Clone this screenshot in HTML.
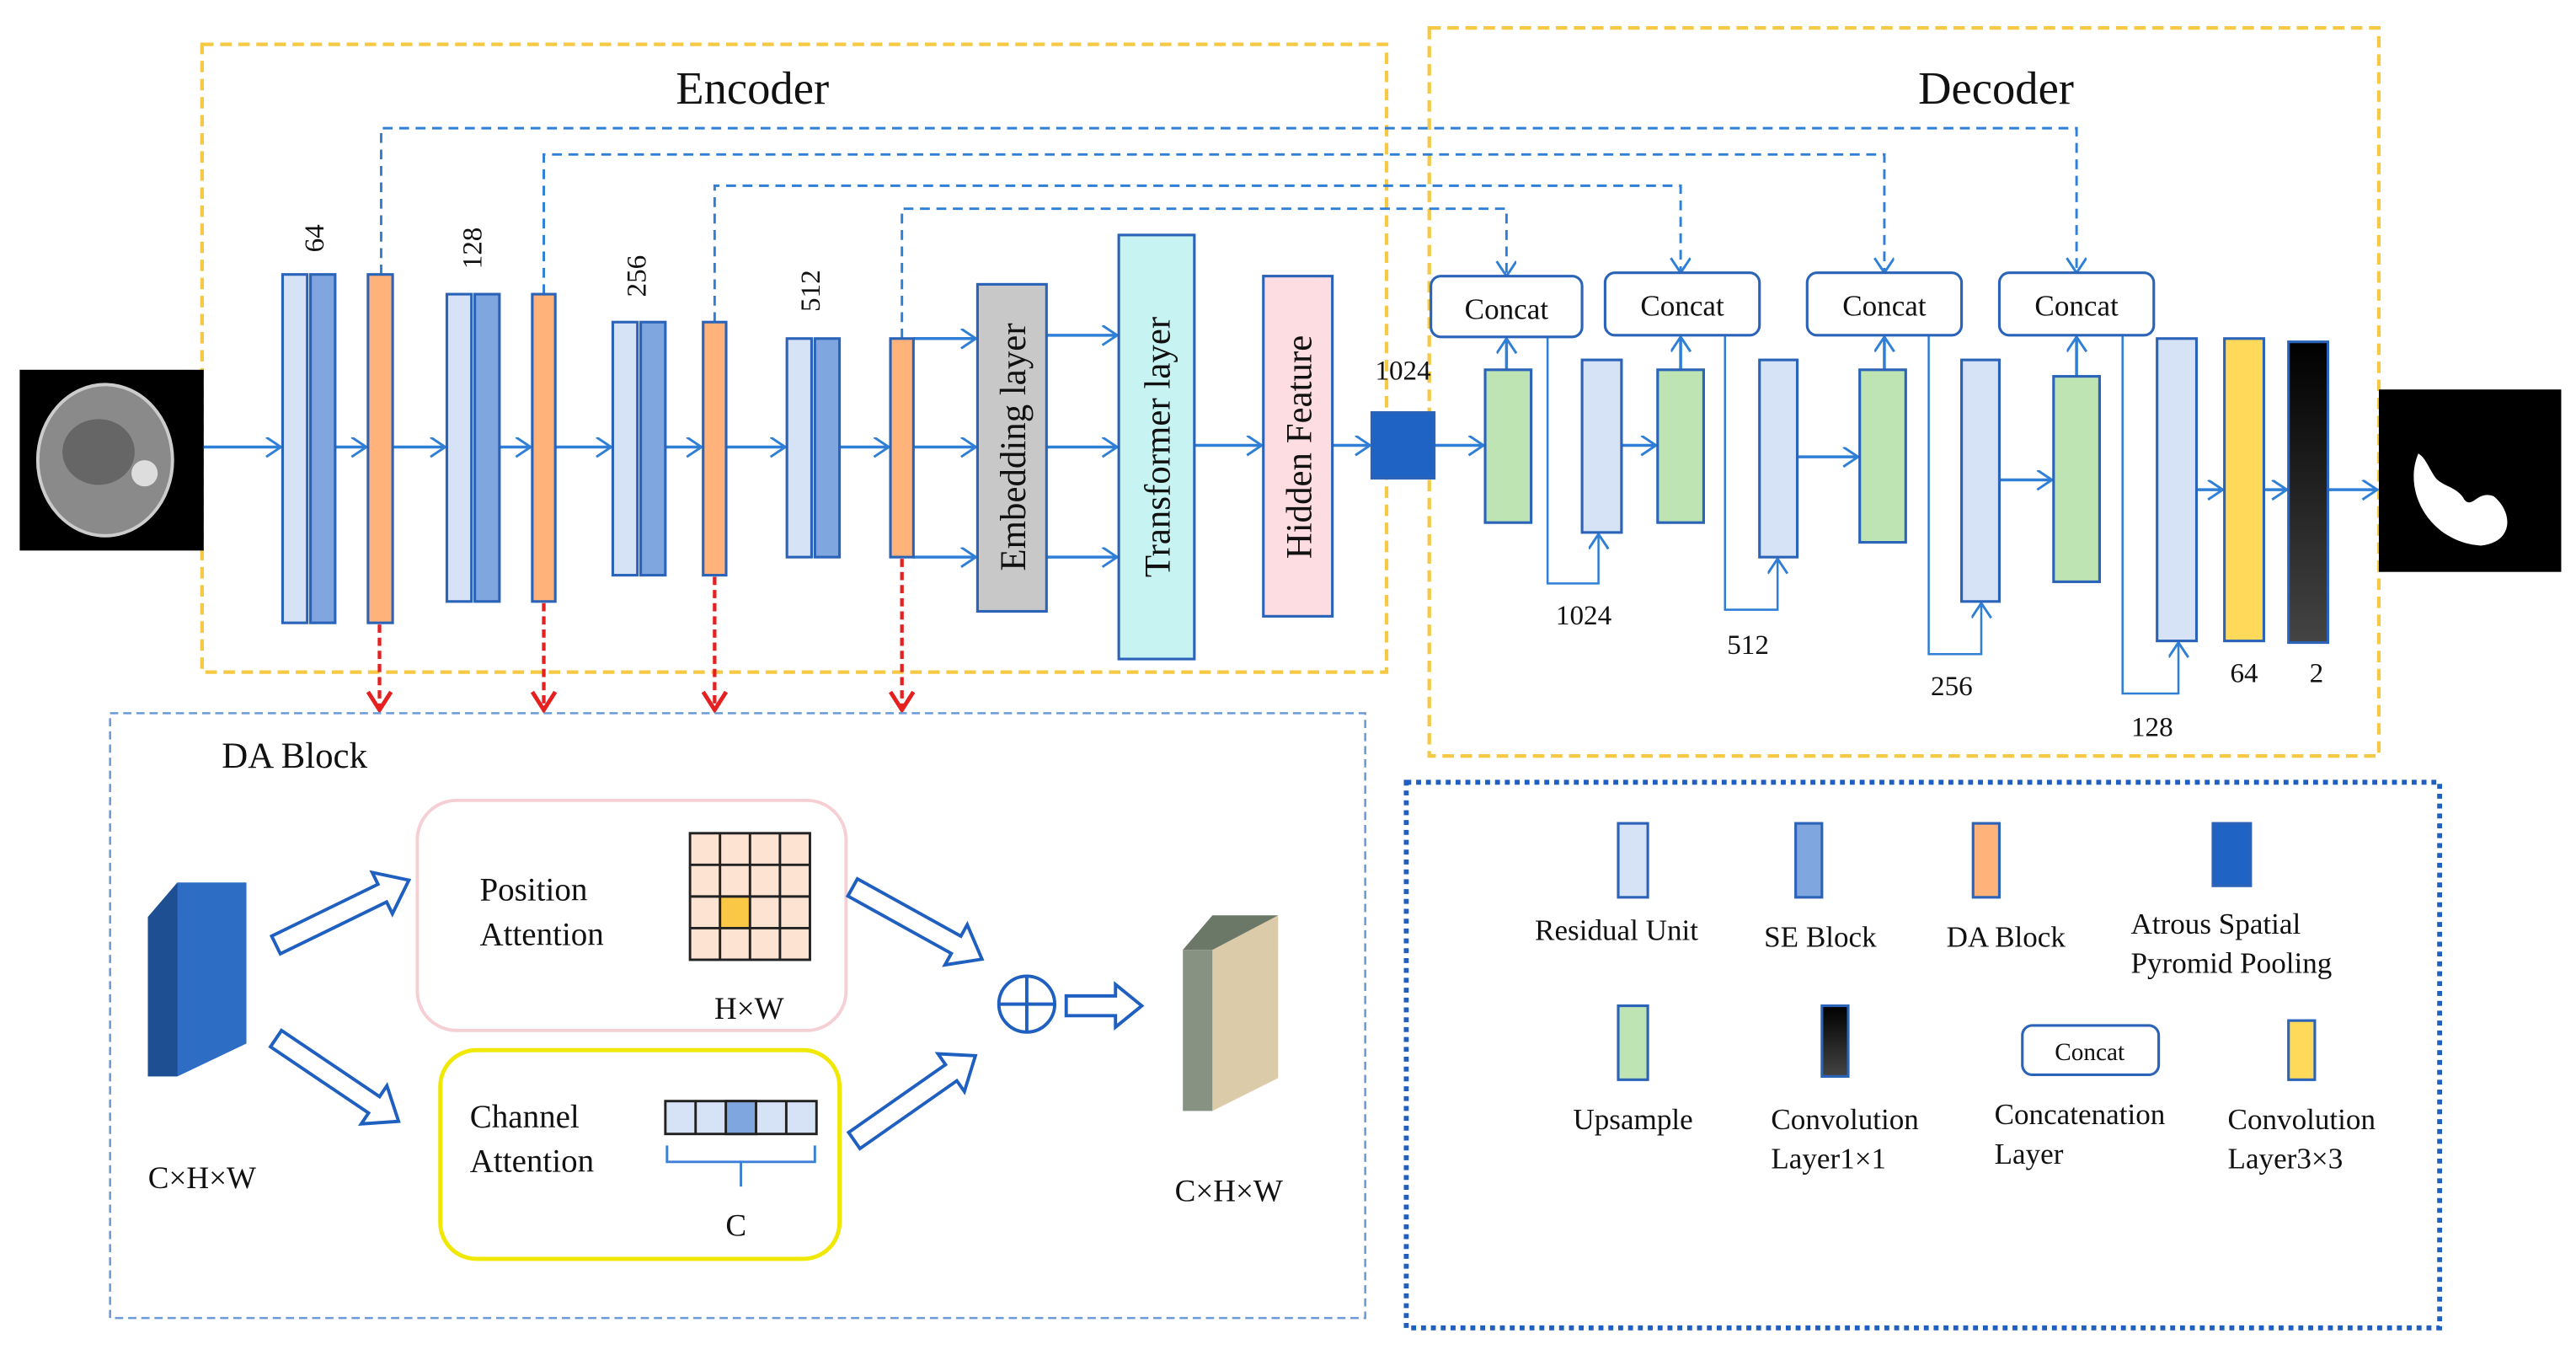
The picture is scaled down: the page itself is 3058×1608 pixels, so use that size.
<!DOCTYPE html>
<html><head><meta charset="utf-8"><style>
html,body{margin:0;padding:0;background:#fff}
svg{display:block}
text{font-family:"Liberation Serif",serif;fill:#111}
</style></head><body>
<svg width="3058" height="1608" viewBox="0 0 1568 824.5" preserveAspectRatio="none" xmlns="http://www.w3.org/2000/svg">
<defs>
<marker id="a" markerUnits="userSpaceOnUse" markerWidth="14" markerHeight="14" refX="10" refY="6" orient="auto"><path d="M1,0 L10,6 L1,12" fill="none" stroke="#2f7fd6" stroke-width="1.5"/></marker>
<marker id="r" markerUnits="userSpaceOnUse" markerWidth="16" markerHeight="16" refX="8" refY="14" orient="0"><path d="M1,3 L8,14 L15,3" fill="none" stroke="#e52020" stroke-width="2.5"/></marker>
<linearGradient id="bk" x1="0" y1="0" x2="0" y2="1"><stop offset="0" stop-color="#000"/><stop offset="1" stop-color="#444"/></linearGradient>
<g id="ha"><polygon points="0,-6 72,-6 72,-14 90,0 72,14 72,6 0,6" fill="#fff" stroke="#1f5fc0" stroke-width="2"/></g>
<g id="hs"><polygon points="0,-6 30,-6 30,-13 46,0 30,13 30,6 0,6" fill="#fff" stroke="#1f5fc0" stroke-width="2"/></g>
</defs>
<rect width="1568" height="824.5" fill="#fff"/>

<rect x="123" y="27" width="721" height="382" fill="none" stroke="#f6c945" stroke-width="2.2" stroke-dasharray="7,4"/>
<rect x="870" y="17" width="578" height="443" fill="none" stroke="#f6c945" stroke-width="2.2" stroke-dasharray="7,4"/>
<text x="458" y="63" font-size="28" text-anchor="middle">Encoder</text>
<text x="1215" y="63" font-size="28" text-anchor="middle">Decoder</text>

<rect x="12" y="225" width="112" height="110" fill="#000"/>
<ellipse cx="64" cy="280" rx="41" ry="46" fill="#8a8a8a" stroke="#ccc" stroke-width="2"/>
<ellipse cx="60" cy="275" rx="22" ry="20" fill="#666"/>
<circle cx="88" cy="288" r="8" fill="#ddd"/>
<rect x="1448" y="237" width="111" height="111" fill="#000"/>
<path d="M1472,276 C1462,300 1480,330 1510,332 C1530,330 1530,312 1518,302 C1508,298 1505,310 1500,304 C1496,296 1486,296 1482,290 C1478,284 1476,278 1472,276 Z" fill="#fff"/>

<g fill="none" stroke="#2f7fd6" stroke-width="1.5" stroke-dasharray="6,4">
<path d="M232,167 V78 H1264 V166" marker-end="url(#a)"/>
<path d="M331,179 V94 H1147 V166" marker-end="url(#a)"/>
<path d="M435,196 V113 H1023 V166" marker-end="url(#a)"/>
<path d="M549,206 V127 H917 V168" marker-end="url(#a)"/>
</g>

<g stroke="#2f7fd6" stroke-width="1.8" fill="none" marker-end="url(#a)">
<path d="M124,272 H171"/><path d="M204,272 H223"/><path d="M239,272 H271"/><path d="M304,272 H323"/>
<path d="M338,272 H372"/><path d="M405,272 H427"/><path d="M442,272 H478"/><path d="M511,272 H541"/>
<path d="M556,206 H594"/><path d="M556,272 H594"/><path d="M556,339 H594"/>
<path d="M637,204 H680"/><path d="M637,272 H680"/><path d="M637,339 H680"/>
<path d="M727,271 H768"/><path d="M811,271 H834"/>
<path d="M873,271 H903"/><path d="M987,271 H1008"/><path d="M1094,278 H1131"/><path d="M1217,292 H1249"/>
<path d="M1337,298 H1353"/><path d="M1378,298 H1392"/><path d="M1417,298 H1447"/>
<path d="M917,225 V206"/><path d="M1023,225 V205"/><path d="M1147,225 V205"/><path d="M1264,229 V205"/>
<path d="M942,205 V355 H973 V325" stroke-width="1.3"/>
<path d="M1050,204 V371 H1082 V340" stroke-width="1.3"/>
<path d="M1174,204 V398 H1206 V367" stroke-width="1.3"/>
<path d="M1292,204 V422 H1326 V391" stroke-width="1.3"/>
</g>

<g stroke="#e52020" stroke-width="2.2" stroke-dasharray="5,3" fill="none" marker-end="url(#r)">
<path d="M231,380 V432"/><path d="M331,367 V432"/><path d="M435,351 V432"/><path d="M549,340 V432"/>
</g>

<g stroke="#2a63b8" stroke-width="1.6">
<rect x="172" y="167" width="15" height="212" fill="#d6e3f6"/><rect x="189" y="167" width="15" height="212" fill="#7fa6de"/>
<rect x="224" y="167" width="15" height="212" fill="#ffb27a"/>
<rect x="272" y="179" width="15" height="187" fill="#d6e3f6"/><rect x="289" y="179" width="15" height="187" fill="#7fa6de"/>
<rect x="324" y="179" width="14" height="187" fill="#ffb27a"/>
<rect x="373" y="196" width="15" height="154" fill="#d6e3f6"/><rect x="390" y="196" width="15" height="154" fill="#7fa6de"/>
<rect x="428" y="196" width="14" height="154" fill="#ffb27a"/>
<rect x="479" y="206" width="15" height="133" fill="#d6e3f6"/><rect x="496" y="206" width="15" height="133" fill="#7fa6de"/>
<rect x="542" y="206" width="14" height="133" fill="#ffb27a"/>
<rect x="595" y="173" width="42" height="199" fill="#c8c8c8"/>
<rect x="681" y="143" width="46" height="258" fill="#c7f3f2"/>
<rect x="769" y="168" width="42" height="207" fill="#fddde2"/>
<rect x="835" y="251" width="38" height="40" fill="#1f63c4"/>
</g>
<g font-size="17">
<text transform="translate(197,145) rotate(-90)" text-anchor="middle">64</text>
<text transform="translate(293,151) rotate(-90)" text-anchor="middle">128</text>
<text transform="translate(393,168) rotate(-90)" text-anchor="middle">256</text>
<text transform="translate(499,177) rotate(-90)" text-anchor="middle">512</text>
</g>
<g font-size="22">
<text transform="translate(624,272) rotate(-90)" text-anchor="middle">Embedding layer</text>
<text transform="translate(712,272) rotate(-90)" text-anchor="middle">Transformer layer</text>
<text transform="translate(798,272) rotate(-90)" text-anchor="middle">Hidden Feature</text>
</g>
<text x="854" y="231" font-size="17" text-anchor="middle">1024</text>

<g stroke="#2a63b8" stroke-width="1.6">
<rect x="871" y="168" width="92" height="37" rx="6" fill="#fff"/>
<rect x="977" y="166" width="94" height="38" rx="6" fill="#fff"/>
<rect x="1100" y="166" width="94" height="38" rx="6" fill="#fff"/>
<rect x="1217" y="166" width="94" height="38" rx="6" fill="#fff"/>
<rect x="904" y="225" width="28" height="93" fill="#bfe4b3"/>
<rect x="1009" y="225" width="28" height="93" fill="#bfe4b3"/>
<rect x="1132" y="225" width="28" height="105" fill="#bfe4b3"/>
<rect x="1250" y="229" width="28" height="125" fill="#bfe4b3"/>
<rect x="963" y="219" width="24" height="105" fill="#d6e3f6"/>
<rect x="1071" y="219" width="23" height="120" fill="#d6e3f6"/>
<rect x="1194" y="219" width="23" height="147" fill="#d6e3f6"/>
<rect x="1313" y="206" width="24" height="184" fill="#d6e3f6"/>
<rect x="1354" y="206" width="24" height="184" fill="#ffd95a"/>
<rect x="1393" y="208" width="24" height="183" fill="url(#bk)"/>
</g>
<g font-size="18" text-anchor="middle">
<text x="917" y="194">Concat</text><text x="1024" y="192">Concat</text><text x="1147" y="192">Concat</text><text x="1264" y="192">Concat</text>
</g>
<g font-size="17" text-anchor="middle">
<text x="964" y="380">1024</text><text x="1064" y="398">512</text><text x="1188" y="423">256</text><text x="1310" y="448">128</text>
<text x="1366" y="415">64</text><text x="1410" y="415">2</text>
</g>

<rect x="67" y="434" width="764" height="368" fill="none" stroke="#6b9ad6" stroke-width="1.3" stroke-dasharray="5,3"/>
<text x="135" y="467" font-size="22">DA Block</text>
<polygon points="90,558 108,537 150,537 150,635 108,655 90,655" fill="#2e6dc4"/>
<polygon points="90,558 108,537 108,655 90,655" fill="#1f4f93"/>
<text x="123" y="723" font-size="19" text-anchor="middle">C×H×W</text>
<rect x="254" y="487" width="261" height="140" rx="24" fill="#fff" stroke="#f6cfd4" stroke-width="2"/>
<rect x="268" y="639" width="243" height="127" rx="22" fill="#fff" stroke="#f0e800" stroke-width="2.5"/>
<text x="292" y="548" font-size="20">Position</text><text x="292" y="575" font-size="20">Attention</text>
<text x="286" y="686" font-size="20">Channel</text><text x="286" y="713" font-size="20">Attention</text>
<text x="456" y="620" font-size="19" text-anchor="middle">H×W</text>
<text x="448" y="752" font-size="19" text-anchor="middle">C</text>
<rect x="420" y="507" width="73" height="77" stroke="#222" stroke-width="1.5" fill="#fde3d2"/>
<rect x="438.25" y="545.5" width="18.25" height="19.25" fill="#fbc846"/>
<g stroke="#222" stroke-width="1.5">
<line x1="438.25" y1="507" x2="438.25" y2="584"/><line x1="456.5" y1="507" x2="456.5" y2="584"/><line x1="474.75" y1="507" x2="474.75" y2="584"/>
<line x1="420" y1="526.25" x2="493" y2="526.25"/><line x1="420" y1="545.5" x2="493" y2="545.5"/><line x1="420" y1="564.75" x2="493" y2="564.75"/>
</g>
<rect x="405" y="670" width="92" height="20" fill="#d6e3f6" stroke="#222" stroke-width="1.5"/>
<rect x="441.8" y="670" width="18.4" height="20" fill="#7fa6de" stroke="#222" stroke-width="1.5"/>
<g stroke="#222" stroke-width="1.5"><line x1="423.4" y1="670" x2="423.4" y2="690"/><line x1="478.6" y1="670" x2="478.6" y2="690"/></g>
<path d="M406,697 V707 H496 V697 M451,707 V722" fill="none" stroke="#3b7fd6" stroke-width="1.5"/>
<use href="#ha" transform="translate(168,575) rotate(-26)"/>
<use href="#ha" transform="translate(168,632) rotate(34)"/>
<use href="#ha" transform="translate(519,540) rotate(29)"/>
<use href="#ha" transform="translate(520,694) rotate(-35)"/>
<use href="#hs" transform="translate(649,612)"/>
<circle cx="625" cy="611" r="17" fill="#fff" stroke="#1f5fc0" stroke-width="2"/>
<path d="M608,611 H642 M625,594 V628" stroke="#1f5fc0" stroke-width="2"/>
<polygon points="720,578 738,557 778,557 760,578" fill="#6b7868"/>
<polygon points="738,578 778,557 778,656 738,676" fill="#dccba9"/>
<rect x="720" y="578" width="18" height="98" fill="#879283"/>
<text x="748" y="731" font-size="19" text-anchor="middle">C×H×W</text>

<rect x="856" y="476" width="629" height="332" fill="none" stroke="#1f5fc0" stroke-width="3" stroke-dasharray="3,3"/>
<g stroke="#2a63b8" stroke-width="1.6">
<rect x="985" y="501" width="18" height="45" fill="#d6e3f6"/>
<rect x="1093" y="501" width="16" height="45" fill="#7fa6de"/>
<rect x="1201" y="501" width="16" height="45" fill="#ffb27a"/>
<rect x="1347" y="501" width="23" height="38" fill="#1f63c4"/>
<rect x="985" y="612" width="18" height="45" fill="#bfe4b3"/>
<rect x="1109" y="612" width="16" height="43" fill="url(#bk)"/>
<rect x="1231" y="624" width="83" height="30" rx="6" fill="#fff"/>
<rect x="1393" y="621" width="16" height="36" fill="#ffd95a"/>
</g>
<g font-size="18">
<text x="984" y="572" text-anchor="middle">Residual Unit</text>
<text x="1108" y="576" text-anchor="middle">SE Block</text>
<text x="1221" y="576" text-anchor="middle">DA Block</text>
<text x="1297" y="568">Atrous Spatial</text>
<text x="1297" y="592">Pyromid Pooling</text>
<text x="994" y="687" text-anchor="middle">Upsample</text>
<text x="1078" y="687">Convolution</text><text x="1078" y="711">Layer1×1</text>
<text x="1214" y="684">Concatenation</text><text x="1214" y="708">Layer</text>
<text x="1356" y="687">Convolution</text><text x="1356" y="711">Layer3×3</text>
<text x="1272" y="645" font-size="15" text-anchor="middle">Concat</text>
</g>
</svg>
</body></html>
